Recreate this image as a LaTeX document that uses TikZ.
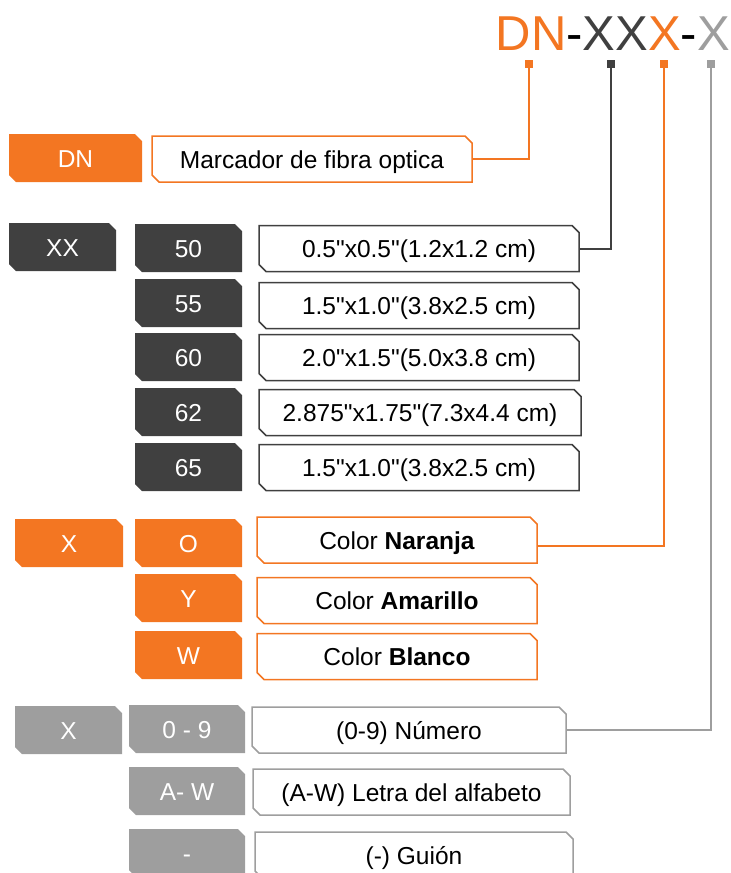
\documentclass[tikz,border=0pt]{standalone}
\usepackage{fontspec}
\setmainfont{Liberation Sans}[Ligatures=TeXOff]
\usetikzlibrary{shapes.misc}
\definecolor{dnorange}{RGB}{243,118,34}
\definecolor{dndark}{RGB}{64,64,64}
\definecolor{dngrey}{RGB}{158,158,158}
\tikzset{
  tag/.style={chamfered rectangle, chamfered rectangle corners={north east,south west},
    chamfered rectangle xsep=3.5pt, chamfered rectangle ysep=3.5pt, inner sep=0pt,
    text height=18pt, text depth=0pt,
    minimum height=48pt, minimum width=107pt, font=\fontsize{24.5}{28}\selectfont},
  filltag/.style={tag, fill=#1, text=white},
  spectag/.style={tag, draw=#1, line width=1.5pt, fill=white, minimum height=46pt, minimum width=320pt},
  codesq/.style={fill=#1, minimum size=8pt, inner sep=0pt},
  link/.style={draw=#1, line width=2pt}
}
\begin{document}
\begin{tikzpicture}[x=1pt,y=-1pt]
  \useasboundingbox (0,0) rectangle (731,873);
  \node[anchor=base east, inner sep=0pt, font=\fontsize{49}{55}\selectfont] (code) at (730,50)
    {\textcolor{dnorange}{DN}-\textcolor{dndark}{XX}\textcolor{dnorange}{X}-\textcolor{dngrey}{X}};
  \node[codesq=dnorange] (qdn) at (529,64) {};
  \node[codesq=dndark] (qxx) at (611,64) {};
  \node[codesq=dnorange] (qx) at (664,64) {};
  \node[codesq=dngrey] (qg) at (711,64) {};

  \node[filltag=dnorange, minimum width=133pt] (dn) at (75.5,158) {DN};
  \node[spectag=dnorange] (dnspec) at (312,159) {Marcador de fibra optica};

  \node[filltag=dndark] (xx) at (62.5,247) {XX};
  \node[filltag=dndark] (s50) at (188.5,248) {50};
  \node[spectag=dndark] (spec50) at (419,248.5) {0.5"x0.5"(1.2x1.2 cm)};
  \node[filltag=dndark] (s55) at (188.5,303) {55};
  \node[spectag=dndark] (spec55) at (419,305.5) {1.5"x1.0"(3.8x2.5 cm)};
  \node[filltag=dndark] (s60) at (188.5,357) {60};
  \node[spectag=dndark] (spec60) at (419,357.5) {2.0"x1.5"(5.0x3.8 cm)};
  \node[filltag=dndark] (s62) at (188.5,412) {62};
  \node[spectag=dndark, minimum width=322pt] (spec62) at (420,412.5) {2.875"x1.75"(7.3x4.4 cm)};
  \node[filltag=dndark] (s65) at (188.5,467) {65};
  \node[spectag=dndark] (spec65) at (419,467.5) {1.5"x1.0"(3.8x2.5 cm)};

  \node[filltag=dnorange, minimum width=108pt] (xo) at (69,543) {X};
  \node[filltag=dnorange] (co) at (188.5,543) {O};
  \node[spectag=dnorange, minimum width=280pt] (naranja) at (397,540) {Color \textbf{Naranja}};
  \node[filltag=dnorange] (cy) at (188.5,598) {Y};
  \node[spectag=dnorange, minimum width=280pt] (amarillo) at (397,600.5) {Color \textbf{Amarillo}};
  \node[filltag=dnorange] (cw) at (188.5,655) {W};
  \node[spectag=dnorange, minimum width=280pt] (blanco) at (397,656.5) {Color \textbf{Blanco}};

  \node[filltag=dngrey] (xg) at (68.5,730) {X};
  \node[filltag=dngrey, minimum width=116pt] (n09) at (187,729) {0 - 9};
  \node[spectag=dngrey, minimum width=314pt] (numero) at (409,730) {(0-9) Número};
  \node[filltag=dngrey, minimum width=116pt] (naw) at (187,791) {A- W};
  \node[spectag=dngrey, minimum width=317pt] (letra) at (411.5,792) {(A-W) Letra del alfabeto};
  \node[filltag=dngrey, minimum width=116pt] (nguion) at (187,853) {-};
  \node[spectag=dngrey, minimum width=318pt] (guion) at (414,855) {(-) Guión};

  \draw[link=dnorange] (qdn) |- (dnspec);
  \draw[link=dndark] (qxx) |- (spec50);
  \draw[link=dnorange] (qx) |- ([yshift=-6pt]naranja.east);
  \draw[link=dngrey] (qg) |- (numero);
\end{tikzpicture}
\end{document}
